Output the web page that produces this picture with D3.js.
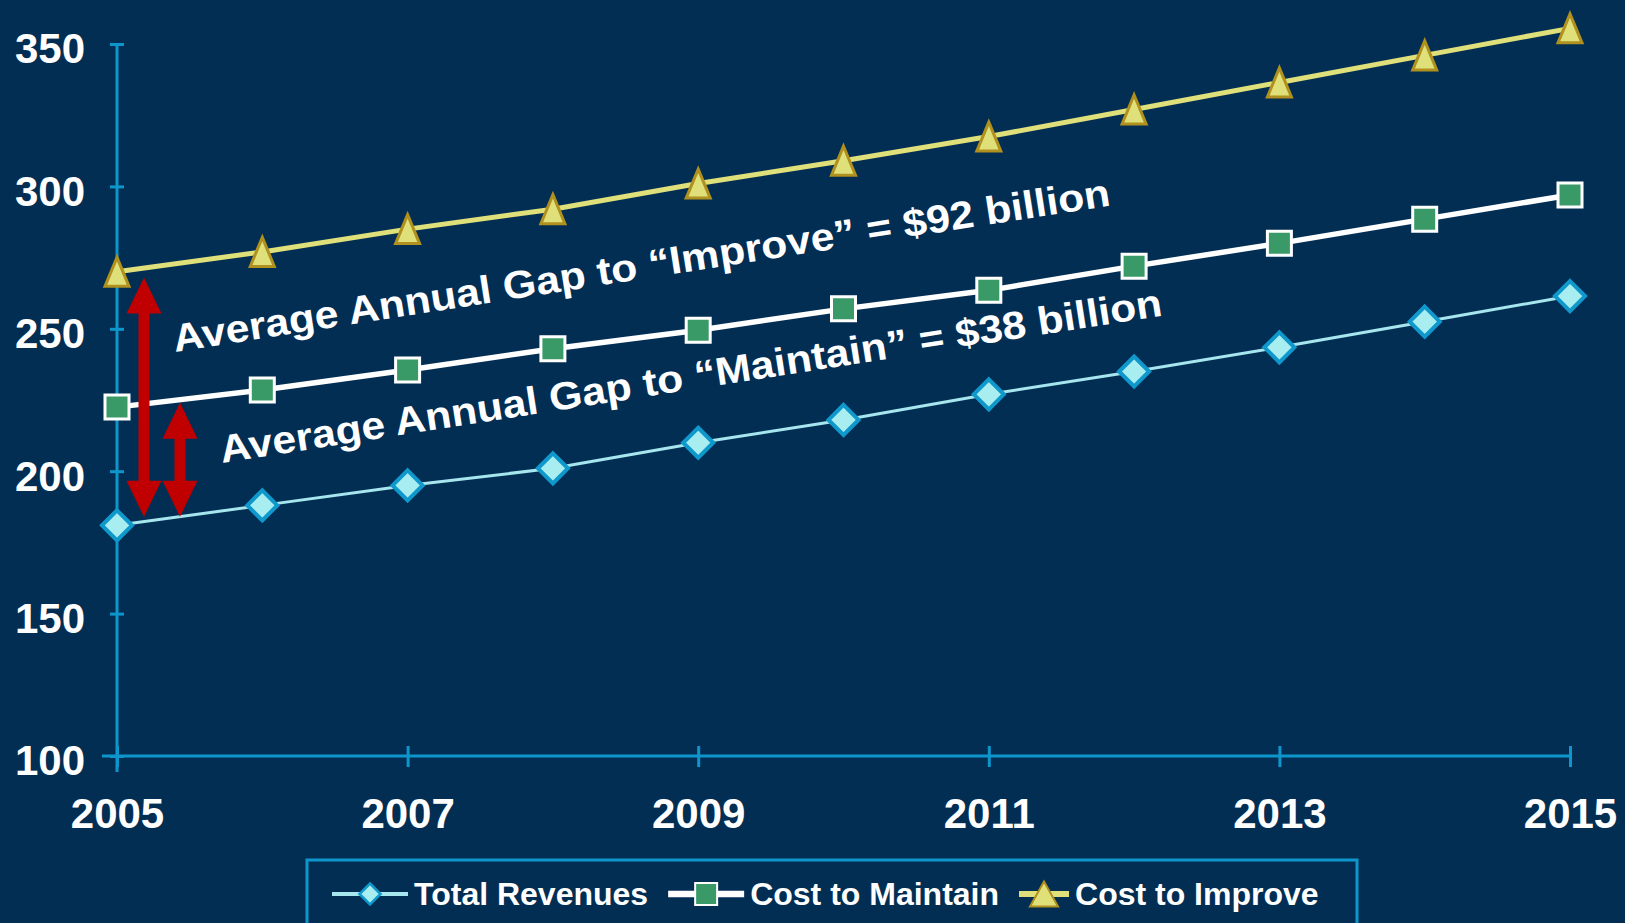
<!DOCTYPE html>
<html>
<head>
<meta charset="utf-8">
<script src="https://cdn.jsdelivr.net/npm/d3@7"></script>
<style>
  html, body { margin: 0; padding: 0; background: #032e54; overflow: hidden; }
  svg { display: block; font-family: "Liberation Sans", Arial, sans-serif; font-weight: bold; }
</style>
</head>
<body>
<svg id="chart" width="1625" height="923"></svg>
<script>
var years = [2005, 2006, 2007, 2008, 2009, 2010, 2011, 2012, 2013, 2014, 2015];
var revenues = [181, 188, 195, 201, 210, 218, 227, 235, 243.5, 252.5, 261.5];
var maintain = [222.5, 228.5, 235.5, 243, 249.5, 257, 263.5, 272, 280, 288.5, 297];
var improve = [270, 277, 285, 292, 301, 309, 317.5, 327, 336.5, 346, 355.5];

var xTicks = [2005, 2007, 2009, 2011, 2013, 2015];
var yTicks = [100, 150, 200, 250, 300, 350];

var seriesNames = ["Total Revenues", "Cost to Maintain", "Cost to Improve"];
var gapLabels = ["Average Annual Gap to \u201cImprove\u201d = $92 billion",
                 "Average Annual Gap to \u201cMaintain\u201d = $38 billion"];
// gap arrows, value range [bottom, top]
var gapArrows = [[184, 268], [184, 224]];

var axisColor = "#0d96cc";

var svg = d3.select("#chart");

var x = d3.scaleLinear()
  .domain([2005, 2015])
  .range([117, 1570]);

var y = d3.scaleLinear()
  .domain([100, 350])
  .range([756, 44]);

// axes
var yAxis = d3.axisLeft(y)
  .tickValues(yTicks)
  .tickSize(7)
  .tickPadding(25);

var gy = svg.append("g")
  .attr("transform", "translate(" + x(2005) + ",0)")
  .call(yAxis);
gy.select(".domain").remove();
gy.selectAll(".tick line")
  .attr("x1", 7)
  .attr("stroke", axisColor)
  .attr("stroke-width", 3);
gy.selectAll(".tick text")
  .attr("fill", "#fff")
  .attr("font-size", 42)
  .attr("font-family", "Liberation Sans, Arial, sans-serif")
  .attr("font-weight", "bold")
  .attr("dy", "0.45em");

var xAxis = d3.axisBottom(x)
  .tickValues(xTicks)
  .tickFormat(d3.format("d"))
  .tickSize(11)
  .tickPadding(44);

var gx = svg.append("g")
  .attr("transform", "translate(0," + y(100) + ")")
  .call(xAxis);
gx.select(".domain").remove();
gx.selectAll(".tick line")
  .attr("y1", -10)
  .attr("stroke", axisColor)
  .attr("stroke-width", 3);
gx.selectAll(".tick text")
  .attr("fill", "#fff")
  .attr("font-size", 42)
  .attr("font-family", "Liberation Sans, Arial, sans-serif")
  .attr("font-weight", "bold")
  .attr("dy", "0.4em");

// axis lines
svg.append("line")
  .attr("x1", x(2005)).attr("x2", x(2005))
  .attr("y1", y(350)).attr("y2", y(100) + 16)
  .attr("stroke", axisColor).attr("stroke-width", 3);
svg.append("line")
  .attr("x1", x(2005) - 15).attr("x2", x(2015))
  .attr("y1", y(100)).attr("y2", y(100))
  .attr("stroke", axisColor).attr("stroke-width", 3);

// marker shapes
function diamondPath(s) {
  return "M0," + (-s) + "L" + s + ",0L0," + s + "L" + (-s) + ",0Z";
}
function squarePath(s) {
  return "M" + (-s) + "," + (-s) + "h" + (2 * s) + "v" + (2 * s) + "h" + (-2 * s) + "Z";
}
function trianglePath(w, h) {
  return "M0," + (-h / 2) + "L" + (w / 2) + "," + (h / 2) + "L" + (-w / 2) + "," + (h / 2) + "Z";
}

var series = [
  { name: seriesNames[0], values: revenues, line: "#a6e6ee", lineWidth: 3,
    shape: diamondPath(15), legendShape: diamondPath(10.5), fill: "#a8eef0", stroke: "#0f98cc", sw: 4 },
  { name: seriesNames[1], values: maintain, line: "#ffffff", lineWidth: 5.5,
    shape: squarePath(12), legendShape: squarePath(11), fill: "#399a68", stroke: "#ffffff", sw: 3 },
  { name: seriesNames[2], values: improve, line: "#dfe07a", lineWidth: 5,
    shape: trianglePath(24, 29), legendShape: trianglePath(28, 25), fill: "#e0e07a", stroke: "#b0901e", sw: 3 }
];

var line = d3.line()
  .x(function(d, i) { return x(years[i]); })
  .y(function(d) { return y(d); });

series.forEach(function(s) {
  svg.append("path")
    .attr("d", line(s.values))
    .attr("fill", "none")
    .attr("stroke", s.line)
    .attr("stroke-width", s.lineWidth);
});

// gap arrows (drawn over the lines, under the markers)
function doubleArrow(cx, yTop, yBot) {
  var hw = 17.5, hl = 36, sw = 5.5;
  return "M" + cx + "," + yTop +
    "L" + (cx + hw) + "," + (yTop + hl) +
    "L" + (cx + sw) + "," + (yTop + hl) +
    "L" + (cx + sw) + "," + (yBot - hl) +
    "L" + (cx + hw) + "," + (yBot - hl) +
    "L" + cx + "," + yBot +
    "L" + (cx - hw) + "," + (yBot - hl) +
    "L" + (cx - sw) + "," + (yBot - hl) +
    "L" + (cx - sw) + "," + (yTop + hl) +
    "L" + (cx - hw) + "," + (yTop + hl) + "Z";
}

svg.selectAll("path.gap")
  .data(gapArrows)
  .enter().append("path")
  .attr("class", "gap")
  .attr("d", function(d, i) { return doubleArrow(x(2005) + 27 + i * 36, y(d[1]), y(d[0])); })
  .attr("fill", "#c00000");

series.forEach(function(s) {
  svg.selectAll(null)
    .data(s.values)
    .enter().append("path")
    .attr("d", s.shape)
    .attr("transform", function(d, i) { return "translate(" + x(years[i]) + "," + y(d) + ")"; })
    .attr("fill", s.fill)
    .attr("stroke", s.stroke)
    .attr("stroke-width", s.sw)
    .attr("stroke-linejoin", "miter");
});

// slanted gap labels (the original font is set wider than Arial)
var labelPos = [[175, 352, 948], [222, 463, 953]];
svg.selectAll("text.gap-label")
  .data(gapLabels)
  .enter().append("text")
  .attr("class", "gap-label")
  .attr("transform", function(d, i) {
    return "translate(" + labelPos[i][0] + "," + labelPos[i][1] + ") rotate(-8.9)";
  })
  .attr("fill", "#fff")
  .attr("font-size", 39)
  .attr("textLength", function(d, i) { return labelPos[i][2]; })
  .attr("lengthAdjust", "spacingAndGlyphs")
  .text(function(d) { return d; });

// legend
svg.append("rect")
  .attr("x", 307).attr("y", 860)
  .attr("width", 1050).attr("height", 100)
  .attr("fill", "none")
  .attr("stroke", axisColor)
  .attr("stroke-width", 3);

var lx = 332, ly = 894;
series.forEach(function(s, i) {
  var lineLen = i === 2 ? 50 : 76;
  var g = svg.append("g").attr("transform", "translate(" + lx + "," + ly + ")");
  g.append("line")
    .attr("x1", 0).attr("x2", lineLen)
    .attr("stroke", s.line)
    .attr("stroke-width", s.lineWidth + 1);
  g.append("path")
    .attr("d", s.legendShape)
    .attr("transform", "translate(" + (lineLen / 2) + ",0)")
    .attr("fill", s.fill)
    .attr("stroke", s.stroke)
    .attr("stroke-width", i === 0 ? 2.5 : 2);
  var t = g.append("text")
    .attr("x", lineLen + 6)
    .attr("dy", "0.35em")
    .attr("fill", "#fff")
    .attr("font-size", 32)
    .text(s.name);
  lx += lineLen + 6 + t.node().getComputedTextLength() + 20;
});
</script>
</body>
</html>
